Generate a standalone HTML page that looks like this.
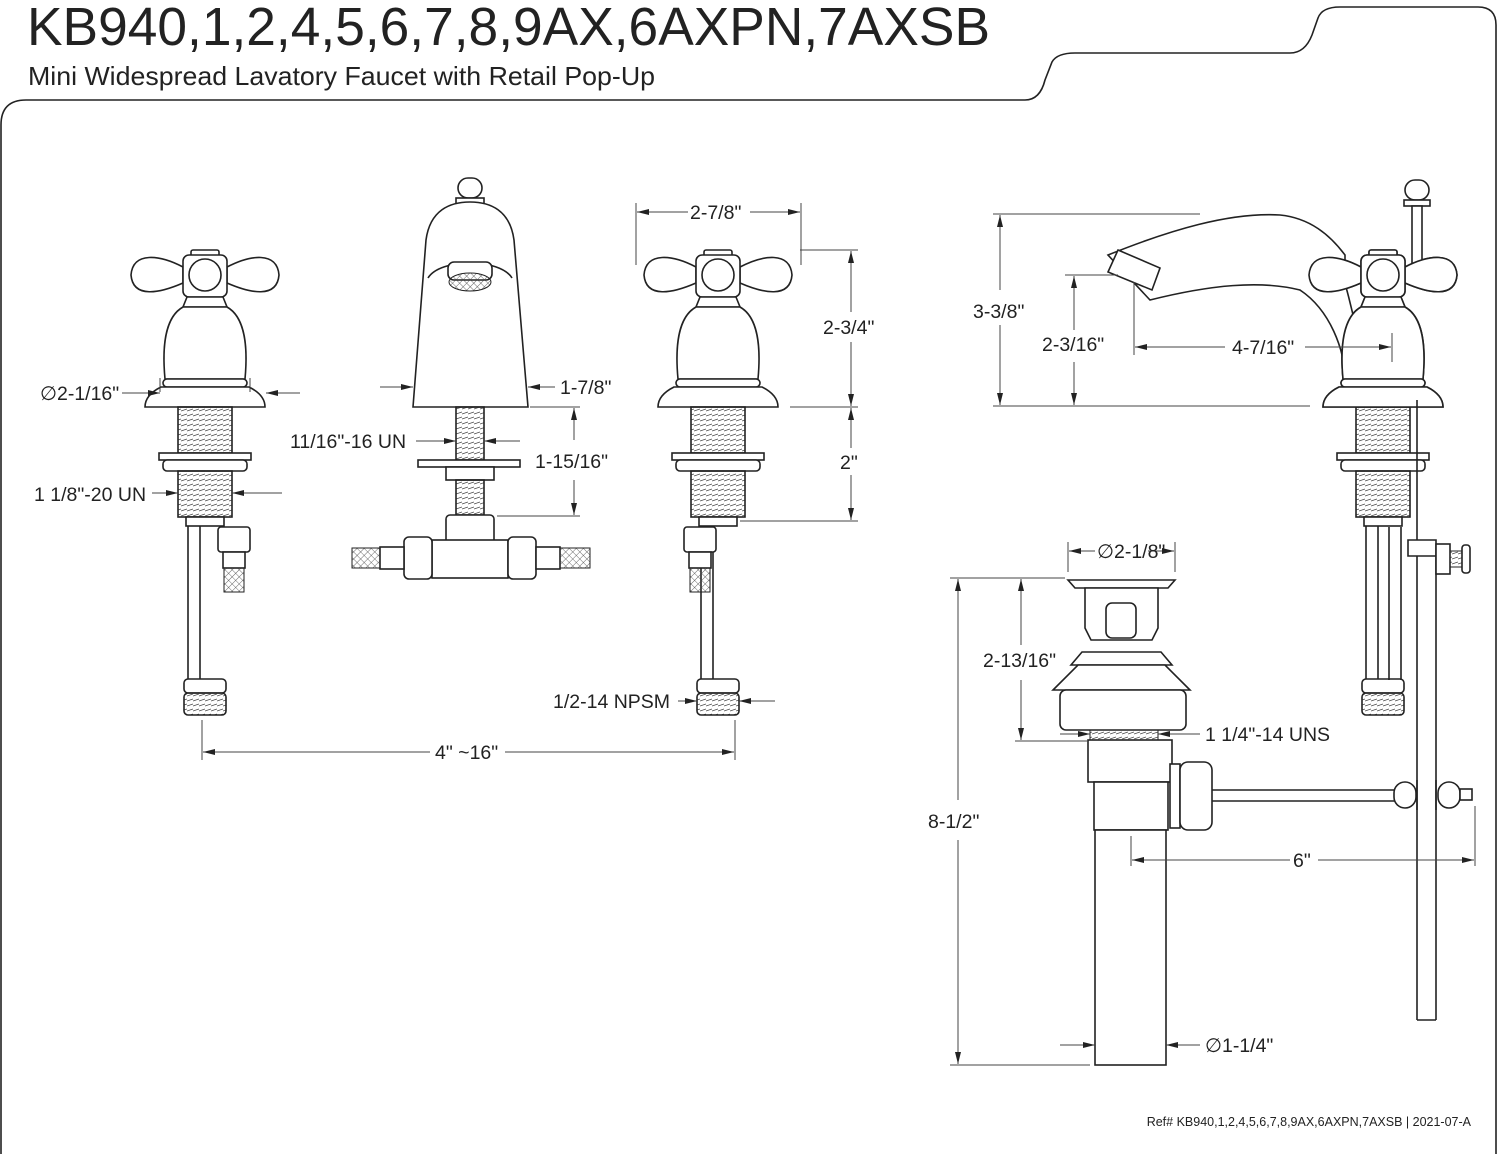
<!DOCTYPE html>
<html><head><meta charset="utf-8"><style>
body{margin:0;background:#fff}
svg{display:block}
text{font-family:"Liberation Sans",sans-serif;fill:#222}
.d{font-size:19.5px}
.o{fill:none;stroke:#222;stroke-width:1.6}
.w{fill:#fff;stroke:#222;stroke-width:1.6}
.t{fill:none;stroke:#444;stroke-width:1}
</style></head><body>
<svg width="1500" height="1154" viewBox="0 0 1500 1154" xmlns="http://www.w3.org/2000/svg">
<defs>
<marker id="a" viewBox="0 0 12 6" refX="12" refY="3" markerWidth="12" markerHeight="6" orient="auto-start-reverse" markerUnits="userSpaceOnUse"><path d="M0,0L12,3L0,6z" fill="#222"/></marker>
<pattern id="th" width="6" height="5" patternUnits="userSpaceOnUse"><path d="M0,4L6,2" stroke="#444" stroke-width="0.8"/></pattern>
<pattern id="hx" width="5" height="5" patternUnits="userSpaceOnUse" patternTransform="rotate(45)"><path d="M0,0V5M0,0H5" stroke="#444" stroke-width="0.8"/></pattern>
<g id="top">
 <rect x="-14" y="-157" width="28" height="7" rx="2" class="w"/>
 <path class="w" d="M-22,-140 C-45,-152 -72,-156 -74,-132 C-72,-108 -45,-114 -22,-124Z"/>
 <path class="w" d="M22,-140 C45,-152 72,-156 74,-132 C72,-108 45,-114 22,-124Z"/>
 <rect x="-22" y="-152" width="44" height="42" rx="6" class="w"/>
 <circle cx="0" cy="-132" r="16" class="w"/>
 <path class="w" d="M-18,-110 L18,-110 L22,-100 L-22,-100Z"/>
 <path class="w" d="M-22,-100 C-40,-90 -43,-60 -40,-28 L40,-28 C43,-60 40,-90 22,-100Z"/>
 <rect x="-42" y="-28" width="84" height="8" rx="4" class="w"/>
 <path class="w" d="M-44,-20 L44,-20 C52,-16 60,-10 60,0 L-60,0 C-60,-10 -52,-16 -44,-20Z"/>
</g>
<g id="body">
 <rect x="-27" y="0" width="54" height="46" fill="url(#th)" stroke="#222" stroke-width="1.6"/>
 <rect x="-46" y="46" width="92" height="7" class="w"/>
 <rect x="-42" y="53" width="84" height="11" rx="4" class="w"/>
 <rect x="-27" y="64" width="54" height="46" fill="url(#th)" stroke="#222" stroke-width="1.6"/>
 <rect x="-19" y="110" width="38" height="9" class="w"/>
 <line x1="-17" y1="119" x2="-17" y2="272" class="o"/><line x1="-5" y1="119" x2="-5" y2="272" class="o"/>
 <rect x="-21" y="272" width="42" height="14" rx="4" class="w"/>
 <rect x="-21" y="286" width="42" height="22" rx="4" fill="url(#th)" stroke="#222" stroke-width="1.6"/>
</g>
<g id="h"><use href="#top"/><use href="#body"/></g>
<g id="inlet">
 <rect x="0" y="0" width="32" height="25" rx="3" class="w"/>
 <rect x="5" y="25" width="22" height="16" class="w"/>
 <rect x="6" y="41" width="20" height="24" fill="url(#hx)" stroke="#222"/>
</g>
</defs>

<text x="27" y="45" font-size="54" textLength="963" lengthAdjust="spacingAndGlyphs">KB940,1,2,4,5,6,7,8,9AX,6AXPN,7AXSB</text>
<text x="28" y="85" font-size="26" textLength="627" lengthAdjust="spacingAndGlyphs">Mini Widespread Lavatory Faucet with Retail Pop-Up</text>
<path class="o" d="M1,1154 V125 Q1,100 26,100 H1025 Q1040,100 1045,80 L1052,62 Q1057,53 1075,53 H1290 Q1305,53 1312,35 L1318,18 Q1322,7 1340,7 H1478 Q1496,7 1496,25 V1154"/>

<use href="#h" x="205" y="407"/>
<use href="#inlet" x="218" y="527"/>
<use href="#h" x="718" y="407"/>
<use href="#inlet" x="684" y="527"/>
<use href="#h" x="1383" y="407"/>

<!-- spout front -->
<rect x="458" y="178" width="24" height="20" rx="10" class="w"/>
<rect x="456" y="198" width="28" height="6" class="w"/>
<path class="w" d="M413,407 L426,240 C430,210 450,202 470,202 C490,202 510,210 514,240 L528,407Z"/>
<path class="o" d="M428,278 C440,258 500,258 512,278"/>
<rect x="448" y="262" width="44" height="18" rx="6" class="w"/>
<ellipse cx="470" cy="282" rx="21" ry="9" fill="url(#hx)" stroke="#222"/>
<rect x="456" y="407" width="28" height="53" fill="url(#th)" stroke="#222" stroke-width="1.6"/>
<rect x="418" y="460" width="102" height="7" class="w"/>
<rect x="446" y="467" width="48" height="13" class="w"/>
<rect x="456" y="480" width="28" height="35" fill="url(#th)" stroke="#222" stroke-width="1.6"/>
<rect x="446" y="515" width="48" height="32" rx="4" class="w"/>
<rect x="432" y="540" width="76" height="38" class="w"/>
<rect x="404" y="537" width="28" height="42" rx="5" class="w"/>
<rect x="508" y="537" width="28" height="42" rx="5" class="w"/>
<rect x="380" y="547" width="24" height="22" class="w"/>
<rect x="536" y="547" width="24" height="22" class="w"/>
<rect x="352" y="548" width="28" height="20" fill="url(#hx)" stroke="#222"/>
<rect x="560" y="548" width="30" height="20" fill="url(#hx)" stroke="#222"/>

<line x1="160" y1="392" x2="160" y2="378" class="t"/><line x1="250" y1="392" x2="250" y2="378" class="t"/>
<line x1="122" y1="393" x2="160" y2="393" class="t" marker-end="url(#a)"/><line x1="300" y1="393" x2="266" y2="393" class="t" marker-end="url(#a)"/>
<text x="40" y="400" class="d">∅2-1/16"</text>
<line x1="152" y1="493" x2="178" y2="493" class="t" marker-end="url(#a)"/><line x1="282" y1="493" x2="232" y2="493" class="t" marker-end="url(#a)"/>
<text x="34" y="501" class="d">1 1/8"-20 UN</text>
<line x1="380" y1="387" x2="413" y2="387" class="t" marker-end="url(#a)"/><line x1="555" y1="387" x2="528" y2="387" class="t" marker-end="url(#a)"/>
<text x="560" y="394" class="d">1-7/8"</text>
<line x1="416" y1="441" x2="456" y2="441" class="t" marker-end="url(#a)"/><line x1="520" y1="441" x2="484" y2="441" class="t" marker-end="url(#a)"/>
<text x="290" y="448" class="d">11/16"-16 UN</text>
<line x1="530" y1="407" x2="580" y2="407" class="t"/><line x1="497" y1="516" x2="580" y2="516" class="t"/>
<line x1="574" y1="440" x2="574" y2="408" class="t" marker-end="url(#a)"/><line x1="574" y1="480" x2="574" y2="515" class="t" marker-end="url(#a)"/>
<text x="535" y="468" class="d">1-15/16"</text>
<line x1="636" y1="203" x2="636" y2="265" class="t"/><line x1="801" y1="203" x2="801" y2="265" class="t"/>
<line x1="688" y1="212" x2="637" y2="212" class="t" marker-end="url(#a)"/><line x1="750" y1="212" x2="800" y2="212" class="t" marker-end="url(#a)"/>
<text x="690" y="219" class="d">2-7/8"</text>
<line x1="800" y1="250" x2="858" y2="250" class="t"/><line x1="790" y1="407" x2="858" y2="407" class="t"/><line x1="740" y1="521" x2="858" y2="521" class="t"/>
<line x1="851" y1="312" x2="851" y2="251" class="t" marker-end="url(#a)"/><line x1="851" y1="342" x2="851" y2="406" class="t" marker-end="url(#a)"/>
<text x="823" y="334" class="d">2-3/4"</text>
<line x1="851" y1="448" x2="851" y2="408" class="t" marker-end="url(#a)"/><line x1="851" y1="475" x2="851" y2="520" class="t" marker-end="url(#a)"/>
<text x="840" y="469" class="d">2"</text>
<line x1="678" y1="701" x2="697" y2="701" class="t" marker-end="url(#a)"/><line x1="775" y1="701" x2="739" y2="701" class="t" marker-end="url(#a)"/>
<text x="553" y="708" class="d">1/2-14 NPSM</text>
<line x1="202" y1="720" x2="202" y2="760" class="t"/><line x1="735" y1="720" x2="735" y2="760" class="t"/>
<line x1="430" y1="752" x2="203" y2="752" class="t" marker-end="url(#a)"/><line x1="505" y1="752" x2="734" y2="752" class="t" marker-end="url(#a)"/>
<text x="435" y="759" class="d">4" ~16"</text>

<!-- side view spout -->
<path class="w" d="M1108,255 C1170,230 1230,212 1280,215 C1310,218 1330,235 1345,255 L1345,340 C1340,320 1320,300 1300,290 C1260,280 1210,285 1150,300Z"/>
<path class="w" d="M1300,290 C1330,310 1345,350 1345,380 L1365,380 C1360,340 1350,300 1340,265"/>
<path class="w" d="M1118,250 L1160,268 L1152,290 L1108,272Z"/>
<rect x="1405" y="180" width="24" height="20" rx="10" class="w"/>
<rect x="1404" y="200" width="26" height="6" class="w"/>
<rect x="1412" y="206" width="10" height="60" class="w"/>
<use href="#top" x="1383" y="407"/>
<line x1="1389" y1="527" x2="1389" y2="680" class="o"/><line x1="1401" y1="527" x2="1401" y2="680" class="o"/>
<line x1="1417" y1="400" x2="1417" y2="1020" class="o"/><line x1="1436" y1="550" x2="1436" y2="1020" class="o"/>
<line x1="1417" y1="1020" x2="1436" y2="1020" class="o"/>
<path class="w" d="M1408,540 H1436 V556 H1408Z"/>
<rect x="1436" y="544" width="14" height="30" class="w"/>
<rect x="1450" y="551" width="12" height="16" fill="url(#th)" stroke="#222"/>
<rect x="1462" y="545" width="8" height="28" rx="3" class="w"/>
<line x1="993" y1="214" x2="1200" y2="214" class="t"/><line x1="993" y1="406" x2="1310" y2="406" class="t"/>
<line x1="1000" y1="290" x2="1000" y2="215" class="t" marker-end="url(#a)"/><line x1="1000" y1="325" x2="1000" y2="405" class="t" marker-end="url(#a)"/>
<text x="973" y="318" class="d">3-3/8"</text>
<line x1="1065" y1="275" x2="1118" y2="275" class="t"/>
<line x1="1074" y1="330" x2="1074" y2="276" class="t" marker-end="url(#a)"/><line x1="1074" y1="362" x2="1074" y2="405" class="t" marker-end="url(#a)"/>
<text x="1042" y="351" class="d">2-3/16"</text>
<line x1="1134" y1="282" x2="1134" y2="355" class="t"/><line x1="1392" y1="333" x2="1392" y2="362" class="t"/>
<line x1="1225" y1="347" x2="1135" y2="347" class="t" marker-end="url(#a)"/><line x1="1305" y1="347" x2="1391" y2="347" class="t" marker-end="url(#a)"/>
<text x="1232" y="354" class="d">4-7/16"</text>

<!-- drain -->
<line x1="1068" y1="542" x2="1068" y2="572" class="t"/><line x1="1175" y1="542" x2="1175" y2="572" class="t"/>
<line x1="1095" y1="551" x2="1069" y2="551" class="t" marker-end="url(#a)"/><line x1="1148" y1="551" x2="1174" y2="551" class="t" marker-end="url(#a)"/>
<text x="1097" y="558" class="d">∅2-1/8"</text>
<path class="w" d="M1068,580 H1175 L1168,588 H1075Z"/>
<path class="w" d="M1085,588 H1158 V628 L1152,640 H1091 L1085,628Z"/>
<rect x="1106" y="603" width="30" height="35" rx="6" class="w"/>
<path class="w" d="M1082,652 H1161 L1172,665 H1071Z"/>
<path class="w" d="M1078,665 H1165 L1190,690 H1053Z"/>
<rect x="1060" y="690" width="126" height="40" rx="6" class="w"/>
<rect x="1090" y="730" width="68" height="10" fill="url(#th)" stroke="#222"/>
<rect x="1088" y="740" width="84" height="42" class="w"/>
<rect x="1094" y="782" width="74" height="48" class="w"/>
<rect x="1095" y="830" width="71" height="235" class="w"/>
<rect x="1170" y="764" width="10" height="64" class="w"/>
<rect x="1180" y="762" width="32" height="68" rx="8" class="w"/>
<line x1="1212" y1="790" x2="1400" y2="790" class="o"/><line x1="1212" y1="801" x2="1400" y2="801" class="o"/>
<rect x="1394" y="782" width="22" height="26" rx="11" class="w"/>
<rect x="1438" y="782" width="22" height="26" rx="11" class="w"/>
<rect x="1460" y="789" width="12" height="11" class="w"/>
<line x1="1417" y1="780" x2="1417" y2="810" class="o"/><line x1="1436" y1="780" x2="1436" y2="810" class="o"/>
<line x1="950" y1="578" x2="1065" y2="578" class="t"/><line x1="1015" y1="741" x2="1088" y2="741" class="t"/><line x1="950" y1="1065" x2="1090" y2="1065" class="t"/>
<line x1="958" y1="800" x2="958" y2="579" class="t" marker-end="url(#a)"/><line x1="958" y1="840" x2="958" y2="1064" class="t" marker-end="url(#a)"/>
<text x="928" y="828" class="d">8-1/2"</text>
<line x1="1021" y1="645" x2="1021" y2="579" class="t" marker-end="url(#a)"/><line x1="1021" y1="680" x2="1021" y2="740" class="t" marker-end="url(#a)"/>
<text x="983" y="667" class="d">2-13/16"</text>
<line x1="1060" y1="734" x2="1090" y2="734" class="t" marker-end="url(#a)"/><line x1="1200" y1="734" x2="1158" y2="734" class="t" marker-end="url(#a)"/>
<text x="1205" y="741" class="d">1 1/4"-14 UNS</text>
<line x1="1131" y1="836" x2="1131" y2="866" class="t"/><line x1="1475" y1="806" x2="1475" y2="866" class="t"/>
<line x1="1290" y1="860" x2="1132" y2="860" class="t" marker-end="url(#a)"/><line x1="1318" y1="860" x2="1474" y2="860" class="t" marker-end="url(#a)"/>
<text x="1293" y="867" class="d">6"</text>
<line x1="1060" y1="1045" x2="1095" y2="1045" class="t" marker-end="url(#a)"/><line x1="1200" y1="1045" x2="1166" y2="1045" class="t" marker-end="url(#a)"/>
<text x="1205" y="1052" class="d">∅1-1/4"</text>

<text x="1471" y="1126" font-size="12.5" text-anchor="end">Ref# KB940,1,2,4,5,6,7,8,9AX,6AXPN,7AXSB | 2021-07-A</text>
</svg>
</body></html>
